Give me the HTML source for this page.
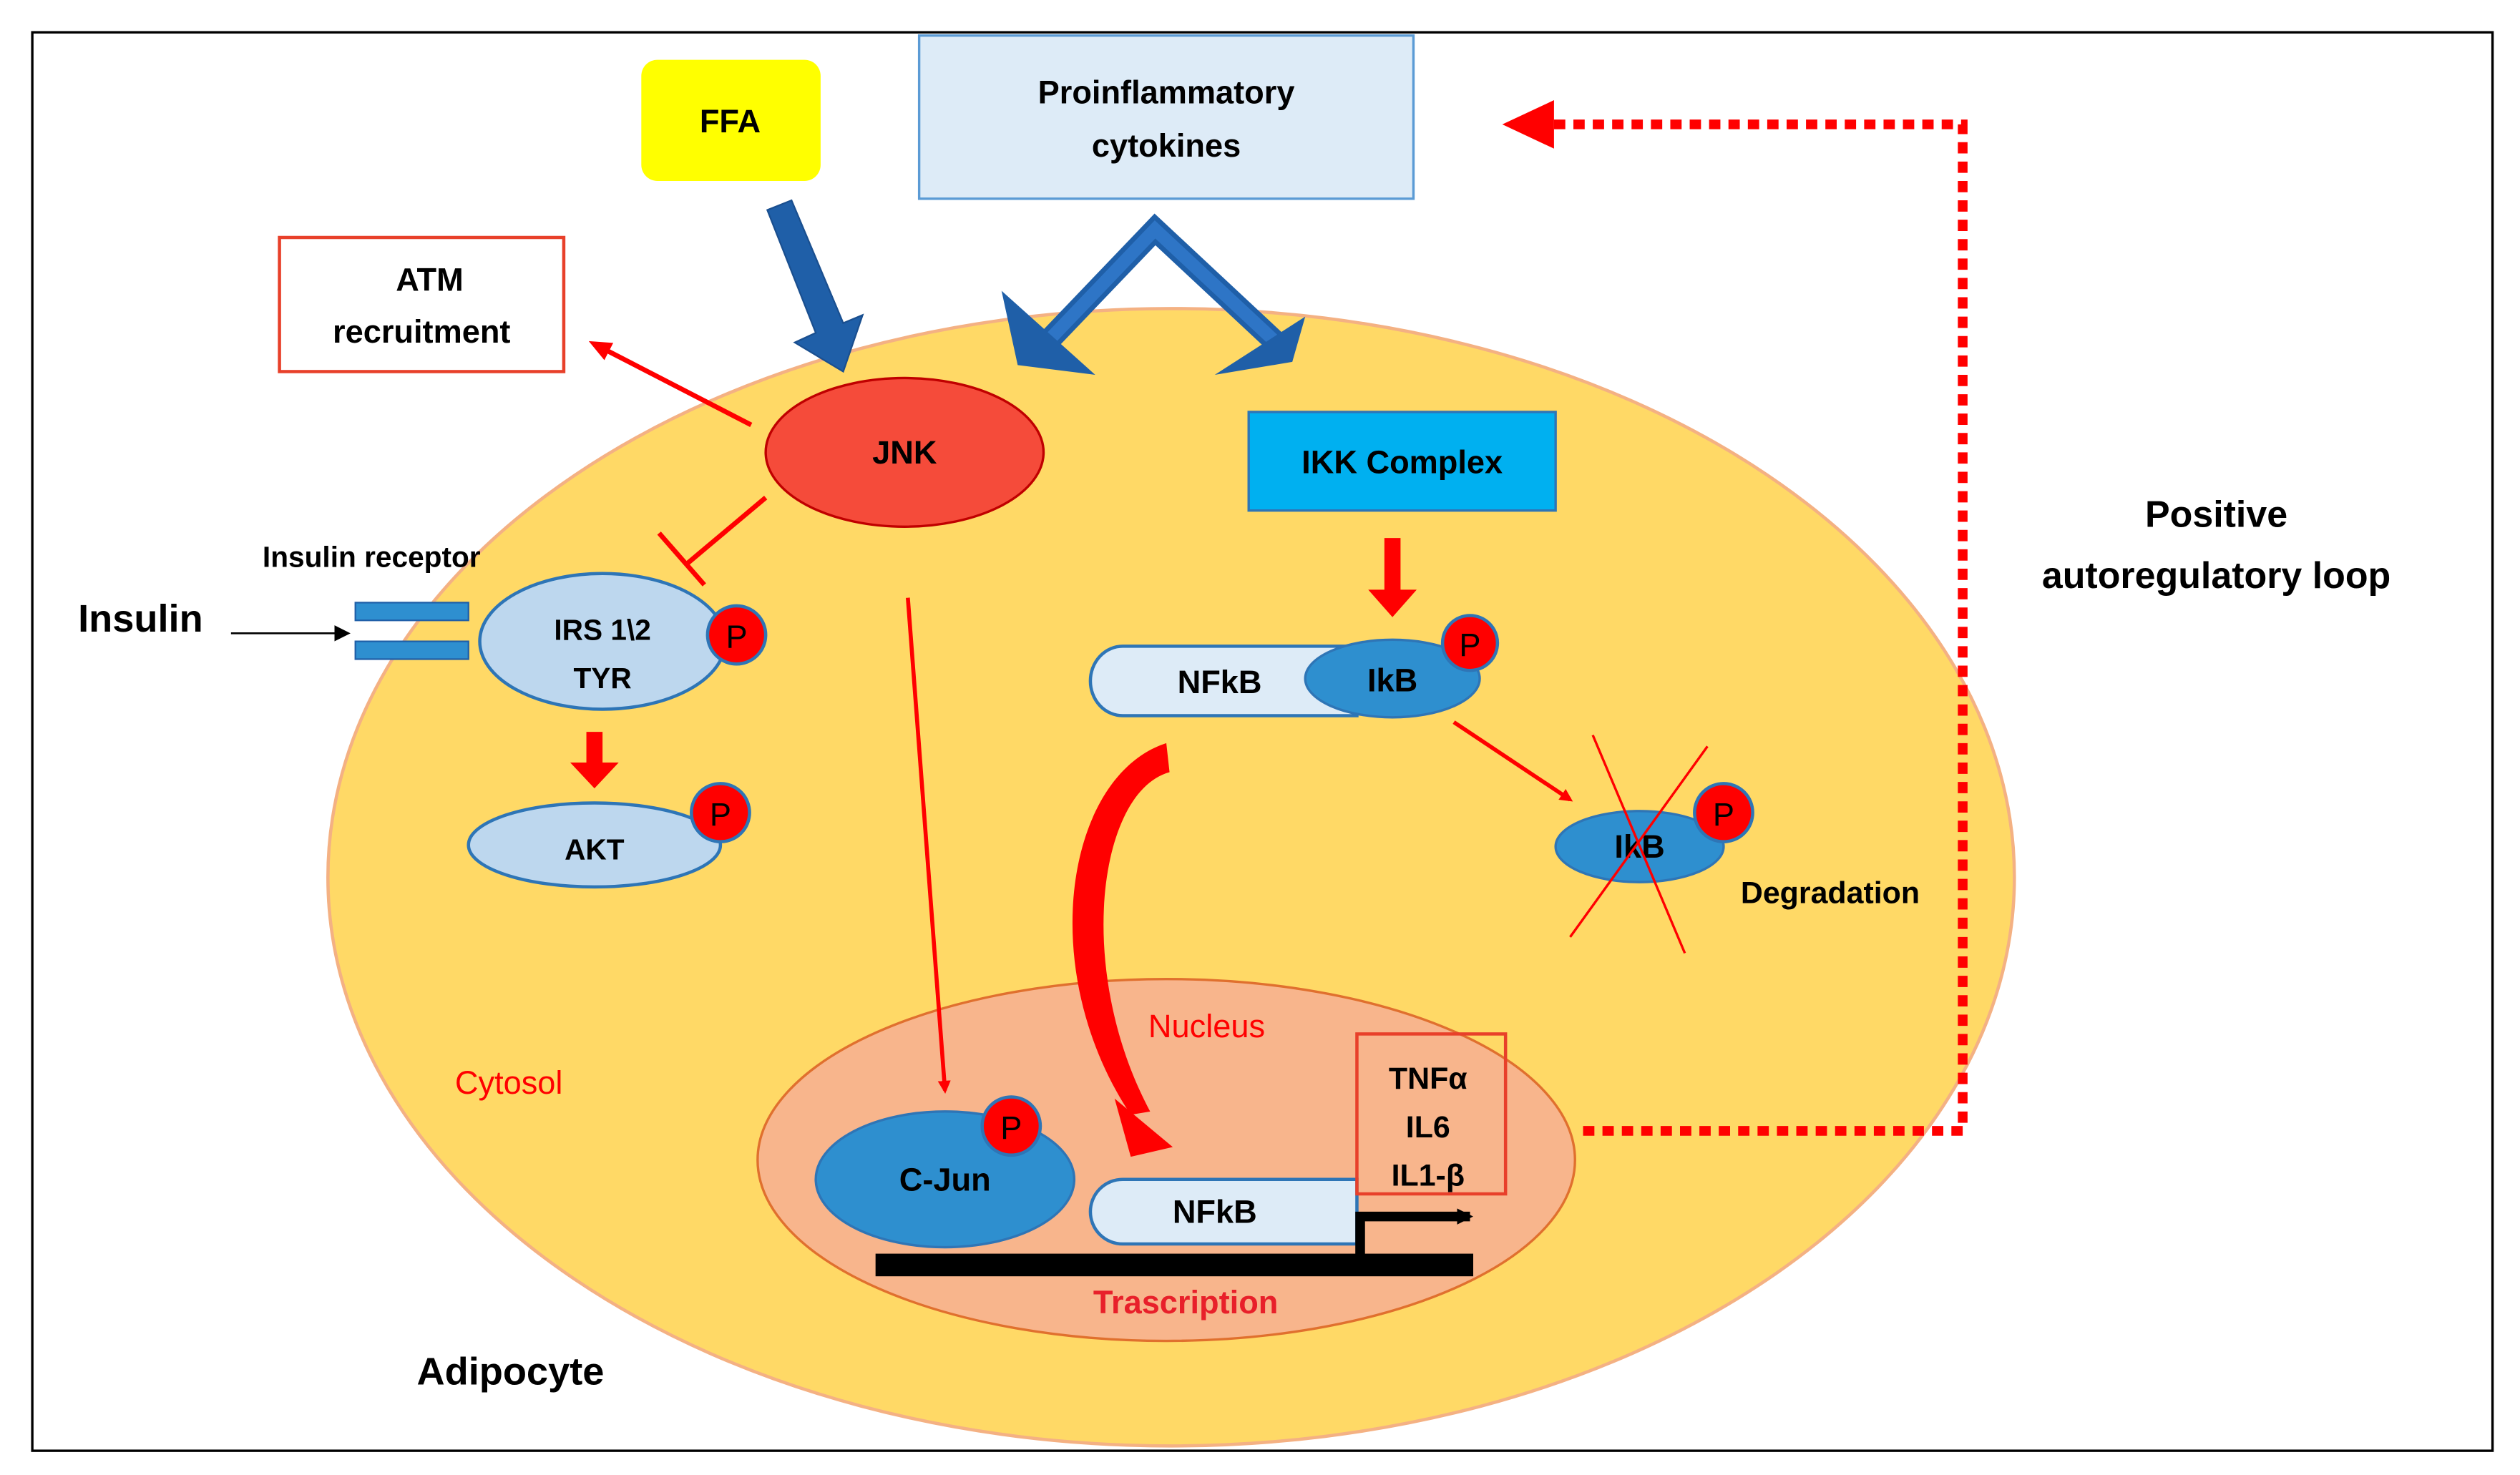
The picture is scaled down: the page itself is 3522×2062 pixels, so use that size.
<!DOCTYPE html>
<html><head><meta charset="utf-8"><style>
html,body{margin:0;padding:0;background:#fff}
svg{display:block}
text{font-family:"Liberation Sans",sans-serif;font-weight:bold}
</style></head><body>
<svg width="3522" height="2062" viewBox="0 0 1560 913" preserveAspectRatio="none" xmlns="http://www.w3.org/2000/svg">
<defs>
<marker id="ra" markerWidth="8" markerHeight="8" refX="6" refY="4" orient="auto" markerUnits="userSpaceOnUse"><path d="M0,0 L8,4 L0,8 z" fill="#f00"/></marker>
<marker id="ra2" markerWidth="14" markerHeight="12" refX="10" refY="6" orient="auto" markerUnits="userSpaceOnUse"><path d="M0,0 L14,6 L0,12 z" fill="#f00"/></marker>
<marker id="ka" markerWidth="10" markerHeight="10" refX="8" refY="5" orient="auto" markerUnits="userSpaceOnUse"><path d="M0,0 L10,5 L0,10 z" fill="#000"/></marker>
</defs>
<rect x="0" y="0" width="1560" height="913" fill="#fff"/>
<rect x="20" y="20" width="1523" height="878" fill="#fff" stroke="#000" stroke-width="1.5"/>
<ellipse cx="725" cy="543" rx="522" ry="352" fill="#ffd966" stroke="#f4b183" stroke-width="2"/>
<ellipse cx="722" cy="718" rx="253" ry="112" fill="#f8b58c" stroke="#e0702e" stroke-width="1.5"/>
<rect x="397" y="37" width="111" height="75" rx="10" fill="#ffff00"/>
<text x="452" y="82" font-size="20" text-anchor="middle">FFA</text>
<rect x="569" y="22" width="306" height="101" fill="#ddebf7" stroke="#5b9bd5" stroke-width="1.5"/>
<text x="722" y="64" font-size="20" text-anchor="middle">Proinflammatory</text>
<text x="722" y="97" font-size="20" text-anchor="middle">cytokines</text>
<rect x="173" y="147" width="176" height="83" fill="#fff" stroke="#e8402a" stroke-width="2"/>
<text x="266" y="180" font-size="20" text-anchor="middle">ATM</text>
<text x="261" y="212" font-size="20" text-anchor="middle">recruitment</text>
<polygon points="475,130 490,124 522,200 534,195 522,230 492,212 505,206" fill="#1f5fa8" stroke="#1a4f8f"/>
<polyline points="648,212 715,142 790,212" fill="none" stroke="#1f5fa8" stroke-width="14" stroke-linejoin="miter"/>
<polyline points="648,212 715,142 790,212" fill="none" stroke="#2e75c6" stroke-width="8" stroke-linejoin="miter"/>
<polygon points="620,180 678,232 630,226" fill="#1f5fa8"/>
<polygon points="808,196 752,232 800,224" fill="#1f5fa8"/>
<ellipse cx="560" cy="280" rx="86" ry="46" fill="#f54b3a" stroke="#c00000" stroke-width="1.5"/>
<text x="560" y="287" font-size="20" text-anchor="middle">JNK</text>
<line x1="465" y1="263" x2="368" y2="213" stroke="#f00" stroke-width="3" marker-end="url(#ra2)"/>
<line x1="474" y1="308" x2="424" y2="350" stroke="#f00" stroke-width="3"/>
<line x1="408" y1="330" x2="436" y2="362" stroke="#f00" stroke-width="3"/>
<line x1="562" y1="370" x2="585" y2="675" stroke="#f00" stroke-width="2.5" marker-end="url(#ra)"/>
<rect x="773" y="255" width="190" height="61" fill="#00b0f0" stroke="#2e75b6" stroke-width="1.5"/>
<text x="868" y="293" font-size="20" text-anchor="middle">IKK Complex</text>
<polygon points="857,333 867,333 867,365 877,365 862,382 847,365 857,365" fill="#f00"/>
<text x="87" y="391" font-size="24" text-anchor="middle">Insulin</text>
<text x="230" y="351" font-size="18" text-anchor="middle">Insulin receptor</text>
<line x1="143" y1="392" x2="215" y2="392" stroke="#000" stroke-width="1.2" marker-end="url(#ka)"/>
<rect x="220" y="373" width="70" height="11" fill="#2e8fd0" stroke="#1f5fa8"/>
<rect x="220" y="397" width="70" height="11" fill="#2e8fd0" stroke="#1f5fa8"/>
<ellipse cx="373" cy="397" rx="76" ry="42" fill="#bdd7ee" stroke="#2e75b6" stroke-width="2"/>
<text x="373" y="396" font-size="18" text-anchor="middle">IRS 1\2</text>
<text x="373" y="426" font-size="18" text-anchor="middle">TYR</text>
<polygon points="363,453 373,453 373,472 383,472 368,488 353,472 363,472" fill="#f00"/>
<ellipse cx="368" cy="523" rx="78" ry="26" fill="#bdd7ee" stroke="#2e75b6" stroke-width="2"/>
<text x="368" y="532" font-size="18" text-anchor="middle">AKT</text>
<path d="M695,400 L840,400 L840,443 L695,443 A20,21.5 0 0 1 695,400 z" fill="#ddebf7" stroke="#2e75b6" stroke-width="2"/>
<text x="755" y="429" font-size="20" text-anchor="middle">NFkB</text>
<ellipse cx="862" cy="420" rx="54" ry="24" fill="#2e8fcf" stroke="#2e75b6" stroke-width="1.5"/>
<text x="862" y="428" font-size="20" text-anchor="middle">IkB</text>
<line x1="900" y1="447" x2="972" y2="495" stroke="#f00" stroke-width="2.5" marker-end="url(#ra)"/>
<ellipse cx="1015" cy="524" rx="52" ry="22" fill="#2e8fcf" stroke="#2e75b6" stroke-width="1.5"/>
<text x="1015" y="531" font-size="20" text-anchor="middle">IkB</text>
<line x1="986" y1="455" x2="1043" y2="590" stroke="#f00" stroke-width="1.5"/>
<line x1="1057" y1="462" x2="972" y2="580" stroke="#f00" stroke-width="1.5"/>
<text x="1133" y="559" font-size="19" text-anchor="middle">Degradation</text>
<path d="M722,460 C660,480 640,600 700,690 L712,688 C665,600 680,490 724,478 z" fill="#f00"/>
<polygon points="690,680 726,710 700,716" fill="#f00"/>
<text x="1372" y="326" font-size="23" text-anchor="middle">Positive</text>
<text x="1372" y="364" font-size="23" text-anchor="middle">autoregulatory loop</text>
<polyline points="980,700 1215,700 1215,77 962,77" fill="none" stroke="#f00" stroke-width="6" stroke-dasharray="7,5"/>
<polygon points="930,77 962,62 962,92" fill="#f00"/>
<text x="747" y="642" font-size="20" fill="#f00" text-anchor="middle" style="font-weight:normal">Nucleus</text>
<text x="315" y="677" font-size="20" fill="#f00" text-anchor="middle" style="font-weight:normal">Cytosol</text>
<ellipse cx="585" cy="730" rx="80" ry="42" fill="#2e8fcf" stroke="#2e75b6" stroke-width="1.5"/>
<text x="585" y="737" font-size="20" text-anchor="middle">C-Jun</text>
<path d="M695,730 L840,730 L840,770 L695,770 A20,20 0 0 1 695,730 z" fill="#ddebf7" stroke="#2e75b6" stroke-width="2"/>
<text x="752" y="757" font-size="20" text-anchor="middle">NFkB</text>
<rect x="840" y="640" width="92" height="99" fill="none" stroke="#e8402a" stroke-width="2"/>
<text x="884" y="674" font-size="19" text-anchor="middle">TNFα</text>
<text x="884" y="704" font-size="19" text-anchor="middle">IL6</text>
<text x="884" y="734" font-size="19" text-anchor="middle">IL1-β</text>
<rect x="542" y="776" width="370" height="14" fill="#000"/>
<polyline points="842,778 842,753 910,753" fill="none" stroke="#000" stroke-width="6" marker-end="url(#ka)"/>
<text x="734" y="813" font-size="20" fill="#e8202a" text-anchor="middle">Trascription</text>
<text x="316" y="857" font-size="24" text-anchor="middle">Adipocyte</text>
<g stroke="#2e75b6" stroke-width="2" fill="#f00">
<circle cx="456" cy="393" r="18"/><circle cx="446" cy="503" r="18"/><circle cx="910" cy="398" r="17"/><circle cx="1067" cy="503" r="18"/><circle cx="626" cy="697" r="18"/>
</g>
<g font-size="20" text-anchor="middle">
<text x="456" y="401" style="font-weight:normal">P</text><text x="446" y="511" style="font-weight:normal">P</text><text x="910" y="406" style="font-weight:normal">P</text><text x="1067" y="511" style="font-weight:normal">P</text><text x="626" y="705" style="font-weight:normal">P</text>
</g>
</svg>
</body></html>
